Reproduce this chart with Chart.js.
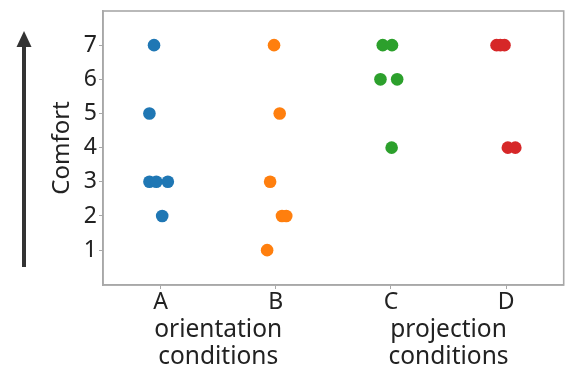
<!DOCTYPE html>
<html>
<head>
<meta charset="utf-8">
<script src="https://cdn.jsdelivr.net/npm/chart.js@4/dist/chart.umd.min.js"></script>
<style>
html,body{margin:0;padding:0;background:#fff;}
#wrap{width:570px;height:369px;position:relative;}
</style>
</head>
<body>
<div id="wrap"><canvas id="c"></canvas></div>
<script>
const categories = ["A", "B", "C", "D"];
const groupLabels = [["orientation", "conditions"], ["projection", "conditions"]];
const yTicks = [1, 2, 3, 4, 5, 6, 7];
const colors = ["#1f77b4", "#ff7f0e", "#2ca02c", "#d62728"];

const valuesA = [7, 5, 3, 3, 3, 2];
const jitterA = [-0.057, -0.097, -0.097, -0.037, 0.063, 0.014];
const valuesB = [7, 5, 3, 2, 2, 1];
const jitterB = [-0.015, 0.034, -0.049, 0.054, 0.091, -0.075];
const valuesC = [7, 7, 6, 6, 4];
const jitterC = [-0.071, 0.009, -0.091, 0.054, 0.006];
const valuesD = [7, 7, 7, 4, 4];
const jitterD = [-0.083, -0.05, -0.014, 0.015, 0.08];

const allValues = [valuesA, valuesB, valuesC, valuesD];
const allJitter = [jitterA, jitterB, jitterC, jitterD];

const datasets = categories.map((cat, i) => ({
  label: cat,
  data: allValues[i].map((v, k) => ({ x: i + allJitter[i][k], y: v })),
  backgroundColor: colors[i],
  borderColor: colors[i],
  pointRadius: 6.3,
  pointHoverRadius: 6.3,
  borderWidth: 0
}));

const FONT = "'Noto Sans', 'DejaVu Sans', sans-serif";
const FS = 23;

const decor = {
  id: 'decor',
  afterDraw(chart) {
    const ctx = chart.ctx;
    const a = chart.chartArea;
    const xs = chart.scales.x;
    ctx.save();
    // frame
    ctx.strokeStyle = '#a8a8a8';
    ctx.lineWidth = 1.6;
    ctx.strokeRect(a.left, a.top, a.right - a.left, a.bottom - a.top);
    // group labels
    ctx.fillStyle = '#222';
    ctx.font = "24.5px " + FONT;
    ctx.textAlign = 'center';
    ctx.textBaseline = 'middle';
    groupLabels.forEach((lines, g) => {
      const cx = xs.getPixelForValue(g * 2 + 0.5);
      lines.forEach((t, li) => ctx.fillText(t, cx, 330 + li * 27));
    });
    // arrow
    ctx.strokeStyle = '#333';
    ctx.fillStyle = '#333';
    ctx.lineWidth = 4;
    ctx.beginPath();
    ctx.moveTo(24, 267);
    ctx.lineTo(24, 44);
    ctx.stroke();
    ctx.beginPath();
    ctx.moveTo(24, 31);
    ctx.lineTo(16.5, 47);
    ctx.lineTo(31.5, 47);
    ctx.closePath();
    ctx.fill();
    ctx.restore();
  }
};

new Chart(document.getElementById('c'), {
  type: 'scatter',
  data: { datasets },
  options: {
    responsive: true,
    maintainAspectRatio: false,
    animation: false,
    layout: { padding: { left: 0, top: 11, right: 1, bottom: 0 } },
    plugins: { legend: { display: false }, tooltip: { enabled: false } },
    scales: {
      x: {
        type: 'linear',
        min: -0.5,
        max: 3.5,
        afterBuildTicks(scale) {
          scale.ticks = categories.map((c, i) => ({ value: i }));
        },
        ticks: {
          callback: (v) => categories[v] ?? '',
          color: '#222',
          font: { family: FONT, size: FS },
          padding: 0,
          maxRotation: 0
        },
        grid: { drawOnChartArea: false, drawTicks: true, tickLength: 4, color: '#a8a8a8' },
        border: { color: '#a8a8a8', width: 1.6 },
        afterFit(scale) { scale.height = 84; scale.paddingLeft = 0; scale.paddingRight = 0; }
      },
      y: {
        min: -0.02,
        max: 8,
        afterBuildTicks(scale) {
          scale.ticks = yTicks.map(v => ({ value: v }));
        },
        ticks: {
          color: '#222',
          font: { family: FONT, size: FS },
          padding: 2
        },
        grid: { drawOnChartArea: false, drawTicks: true, tickLength: 4, color: '#a8a8a8' },
        border: { color: '#a8a8a8', width: 1.6 },
        title: {
          display: true,
          text: 'Comfort',
          color: '#222',
          font: { family: FONT, size: 24 },
          padding: { top: 48, bottom: 0 }
        },
        afterFit(scale) { scale.width = 103; scale.paddingTop = 0; scale.paddingBottom = 0; }
      }
    }
  },
  plugins: [decor]
});
</script>
</body>
</html>
